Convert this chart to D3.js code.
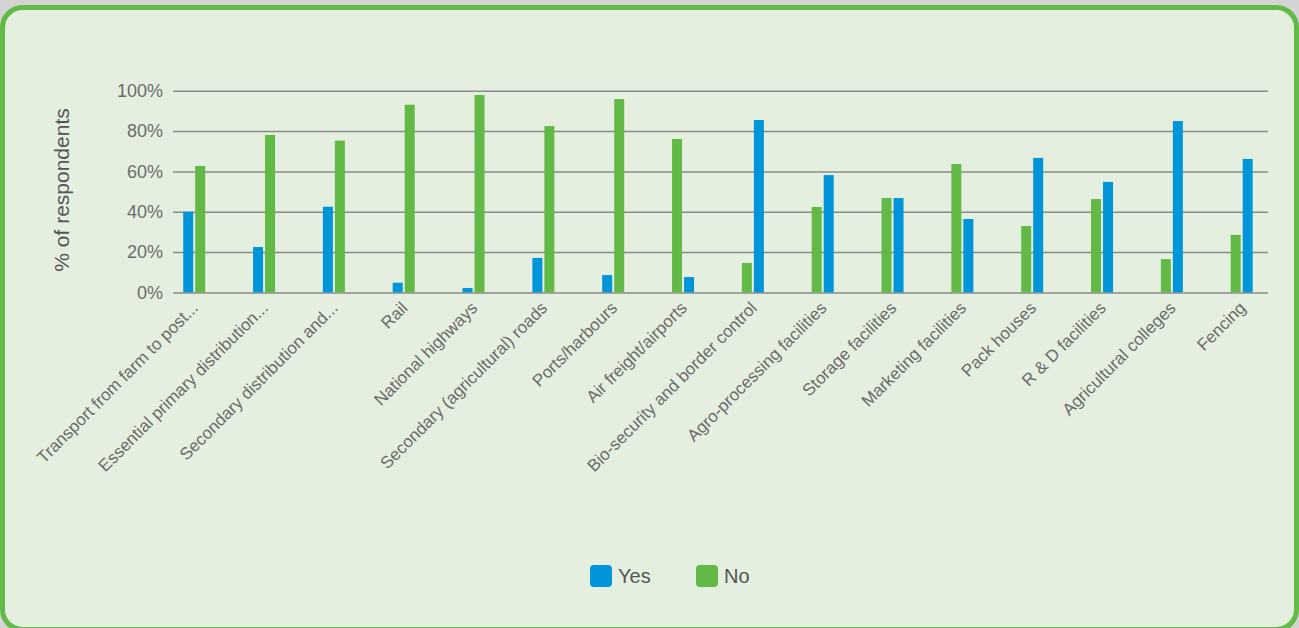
<!DOCTYPE html>
<html>
<head>
<meta charset="utf-8">
<script src="https://cdnjs.cloudflare.com/ajax/libs/d3/7.8.5/d3.min.js"></script>
<style>
    body { margin: 0; background: #d4d4d4; }
    svg { display: block; font-family: "Liberation Sans", Arial, sans-serif; }
</style>
</head>
<body>
<script>
var categories = [
    "Transport from farm to post...",
    "Essential primary distribution...",
    "Secondary distribution and...",
    "Rail",
    "National highways",
    "Secondary (agricultural) roads",
    "Ports/harbours",
    "Air freight/airports",
    "Bio-security and border control",
    "Agro-processing facilities",
    "Storage facilities",
    "Marketing facilities",
    "Pack houses",
    "R & D facilities",
    "Agricultural colleges",
    "Fencing"
];
var yesValues = [40, 22.5, 42.5, 4.8, 2.2, 17.1, 8.6, 7.6, 85.5, 58.2, 46.8, 36.4, 66.7, 54.8, 85, 66.2];
var noValues  = [62.7, 78.1, 75.3, 93.1, 97.9, 82.5, 95.9, 76.1, 14.6, 42.4, 46.8, 63.7, 32.9, 46.3, 16.5, 28.5];
var yTicks = [0, 20, 40, 60, 80, 100];
var seriesNames = ["Yes", "No"];
// from "Air freight/airports" on, the original draws No before Yes
var swapFrom = 7;

var W = 1299, H = 628;
var plotLeft = 173, plotRight = 1268;

var svg = d3.select("body").append("svg")
            .attr("width", W)
            .attr("height", H);

var color = d3.scaleOrdinal()
            .domain(seriesNames)
            .range(["#0094d9", "#62b946"]);

// panel
svg.append("rect")
    .attr("x", 2.5)
    .attr("y", 7.5)
    .attr("width", W - 5)
    .attr("height", 622)
    .attr("rx", 20)
    .attr("fill", "#e5efdf")
    .attr("stroke", "#62bb46")
    .attr("stroke-width", 5);

var y = d3.scaleLinear()
        .domain([0, 100])
        .range([292.4, 90.8]);

var x = d3.scaleBand()
        .domain(categories)
        .range([159.3, 1276.6]);

var inner = d3.scaleBand()
        .domain([0, 1])
        .range([-11, 11])
        .paddingInner(2 / 12);

// gridlines + tick labels
var yAxis = d3.axisLeft(y)
        .tickValues(yTicks)
        .tickSize(-(plotRight - plotLeft))
        .tickPadding(10)
        .tickFormat(function(d){ return d + "%"; });

var gy = svg.append("g")
        .attr("transform", "translate(" + plotLeft + ",0)")
        .call(yAxis);
gy.select(".domain").remove();
gy.selectAll(".tick line")
    .attr("stroke", "#8a8a8a")
    .attr("stroke-width", 1.5);
gy.selectAll(".tick text")
    .attr("fill", "#6b6b6b")
    .style("font-size", "18px");

svg.append("text")
    .attr("transform", "translate(69,190) rotate(-90)")
    .attr("text-anchor", "middle")
    .attr("fill", "#555")
    .style("font-size", "21px")
    .text("% of respondents");

// bars
var rows = categories.map(function(c, i){
    return {cat: c, i: i, Yes: yesValues[i], No: noValues[i]};
});

var groups = svg.selectAll("g.cat")
        .data(rows)
        .enter()
        .append("g")
        .attr("class", "cat")
        .attr("transform", function(d){ return "translate(" + (x(d.cat) + x.bandwidth() / 2) + ",0)"; });

groups.selectAll("rect")
    .data(function(d){
        var order = d.i < swapFrom ? seriesNames : seriesNames.slice().reverse();
        return order.map(function(s, k){ return {series: s, slot: k, value: d[s]}; });
    })
    .enter()
    .append("rect")
    .attr("x", function(d){ return inner(d.slot); })
    .attr("width", inner.bandwidth())
    .attr("y", function(d){ return y(d.value); })
    .attr("height", function(d){ return y(0) - y(d.value); })
    .attr("fill", function(d){ return color(d.series); });

// category labels
groups.append("text")
    .attr("transform", "translate(5,309) rotate(-45)")
    .attr("text-anchor", "end")
    .attr("fill", "#6b6b6b")
    .style("font-size", "17px")
    .text(function(d){ return d.cat; });

// legend
var legend = svg.selectAll("g.legend")
        .data(seriesNames)
        .enter()
        .append("g")
        .attr("class", "legend")
        .attr("transform", function(d, i){ return "translate(" + (590 + i * 106) + ",565)"; });

legend.append("rect")
    .attr("width", 22)
    .attr("height", 22)
    .attr("rx", 4)
    .attr("fill", function(d){ return color(d); });

legend.append("text")
    .attr("x", 28)
    .attr("y", 18)
    .attr("fill", "#555")
    .style("font-size", "20px")
    .text(function(d){ return d; });
</script>
</body>
</html>
